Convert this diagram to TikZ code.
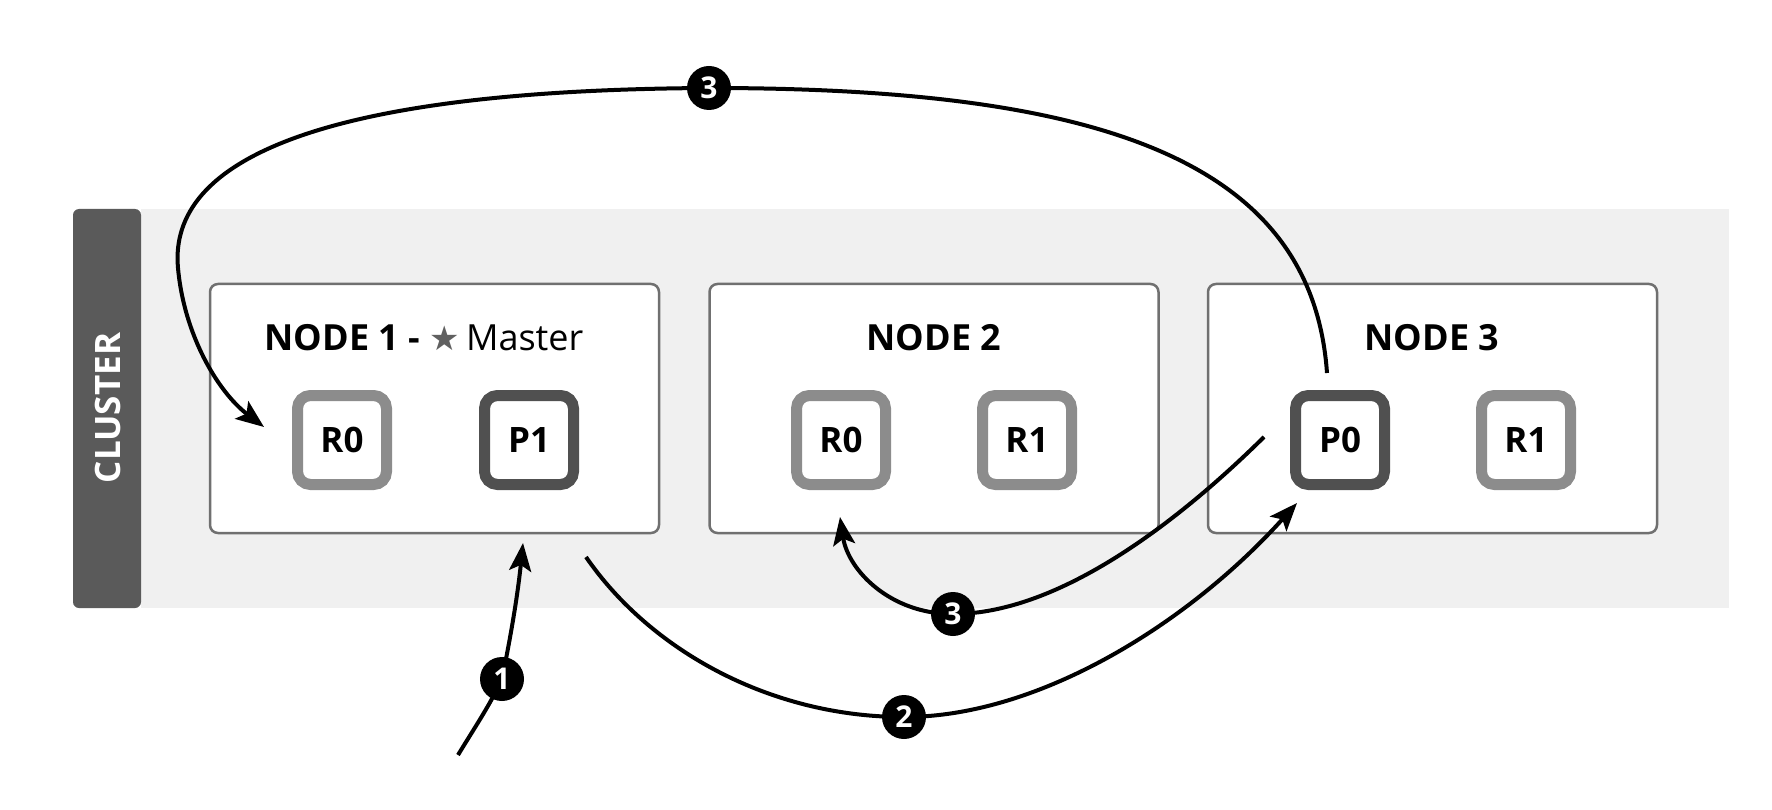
\documentclass[tikz,border=0pt]{standalone}
\usepackage{fontspec}
\setmainfont{Open Sans}
\newfontfamily\symfont{DejaVu Sans}
\usetikzlibrary{arrows.meta}
\definecolor{bandgray}{HTML}{F0F0F0}
\definecolor{bargray}{HTML}{5A5A5A}
\definecolor{boxgray}{HTML}{707070}
\definecolor{rgray}{HTML}{8C8C8C}
\definecolor{pgray}{HTML}{505050}
\definecolor{stargray}{HTML}{606060}
\tikzset{
  nodebox/.style={draw=boxgray, line width=2.5pt, fill=white, rounded corners=8pt,
    minimum width=449pt, minimum height=249pt, inner sep=0pt},
  title/.style={font=\fontsize{36}{42}\selectfont\bfseries, inner sep=0pt},
  shard/.style={line width=11pt, fill=white, rounded corners=13pt, minimum size=89pt,
    inner sep=0pt, font=\fontsize{35}{40}\selectfont\bfseries},
  rshard/.style={shard, draw=rgray},
  pshard/.style={shard, draw=pgray},
  conn/.style={line width=4pt, -{Stealth[length=28pt,width=22pt,inset=6pt]}},
  badge/.style={circle, fill=black, minimum size=44pt, inner sep=0pt, text=white,
    font=\fontsize{30}{32}\selectfont\bfseries},
}
\begin{document}
\begin{tikzpicture}[x=1pt,y=-1pt]
\useasboundingbox (0,0) rectangle (1772,810);
% cluster band
\fill[bandgray] (141,209) rectangle (1729,608);
\fill[bargray, rounded corners=6pt] (141,209) -- (73,209) -- (73,608) -- (141,608) -- cycle;
\node[rotate=90, text=white, font=\fontsize{35}{40}\selectfont\bfseries] (cl) at (108,408) {CLUSTER};
% node boxes
\node[nodebox] (n1) at (434.5,408.5) {};
\node[nodebox] (n2) at (934,408.5) {};
\node[nodebox] (n3) at (1432.5,408.5) {};
\node[title] (t1) at (424,338) {NODE 1 - {\symfont\mdseries\color{stargray}\fontsize{34}{36}\selectfont ★}\hspace{6pt}{\mdseries\fontsize{36}{42}\selectfont Master}};
\node[title] (t2) at (934,338) {NODE 2};
\node[title] (t3) at (1432,338) {NODE 3};
% shards
\node[rshard] (n1r0) at (342,440) {R0};
\node[pshard] (n1p1) at (529,440) {P1};
\node[rshard] (n2r0) at (841,440) {R0};
\node[rshard] (n2r1) at (1027,440) {R1};
\node[pshard] (n3p0) at (1340,440) {P0};
\node[rshard] (n3r1) at (1526,440) {R1};
% connector end points and badge positions
\coordinate (a1s) at (458,755);
\coordinate (a1t) at (523,543);
\coordinate (a2s) at (586,557);
\coordinate (a2t) at (1297,503);
\coordinate (a3s) at (1264,437);
\coordinate (a3t) at (840,517);
\coordinate (a4s) at (1327,373);
\coordinate (a4t) at (264,427);
\coordinate (c1) at (502,679);
\coordinate (c2) at (904,717);
\coordinate (c3) at (953,614);
\coordinate (c4) at (709,88);
% connectors
\draw[conn] (a1s) .. controls (475,727) and (490,705) .. (c1)
  .. controls (512,630) and (518,592) .. (a1t);
\draw[conn] (a2s) .. controls (650,650) and (770,717) .. (c2)
  .. controls (1040,717) and (1190,622) .. (a2t);
\draw[conn] (a3s) .. controls (1180,520) and (1060,614) .. (c3)
  .. controls (890,614) and (848,570) .. (a3t);
\draw[conn] (a4s) .. controls (1312,160) and (1100,88) .. (c4)
  .. controls (320,90) and (168,160) .. (178,268)
  .. controls (184,335) and (218,392) .. (a4t);
% badges
\node[badge] (b1) at (c1) {1};
\node[badge] (b2) at (c2) {2};
\node[badge] (b3) at (c3) {3};
\node[badge] (b4) at (c4) {3};
\end{tikzpicture}
\end{document}
